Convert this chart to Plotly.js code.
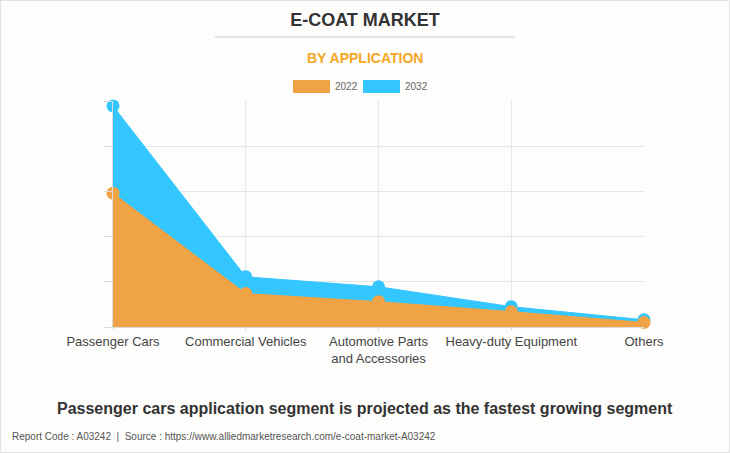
<!DOCTYPE html>
<html><head><meta charset="utf-8">
<script src="https://cdn.plot.ly/plotly-3.0.1.min.js"></script>
<style>
html,body{margin:0;padding:0;background:#fdfdfc;}
#wrap{position:relative;width:730px;height:453px;}
#chart{width:730px;height:453px;}
#border{position:absolute;left:0;top:0;width:730px;height:453px;box-sizing:border-box;border:1px solid #e2e2e2;pointer-events:none;}
</style></head>
<body><div id="wrap"><div id="chart"></div><div id="border"></div></div>
<script>
const categories = ["Passenger Cars","Commercial Vehicles","Automotive Parts<br>and Accessories","Heavy-duty Equipment","Others"];
const values2022 = [2.96, 0.74, 0.56, 0.34, 0.10];
const values2032 = [4.89, 1.11, 0.89, 0.45, 0.16];
const seriesNames = ["2022","2032"];
const colors = {"2022":"#f0a344","2032":"#33c6ff"};
const font = "Liberation Sans, Arial, sans-serif";

const traces = [
  {x:categories, y:values2032, name:seriesNames[1], type:"scatter", mode:"lines+markers", fill:"tozeroy",
   fillcolor:colors["2032"], line:{color:colors["2032"], width:1}, marker:{color:colors["2032"], size:13},
   cliponaxis:false, hoverinfo:"x+y+name"},
  {x:categories, y:values2022, name:seriesNames[0], type:"scatter", mode:"lines+markers", fill:"tozeroy",
   fillcolor:colors["2022"], line:{color:colors["2022"], width:1}, marker:{color:colors["2022"], size:13},
   cliponaxis:false, hoverinfo:"x+y+name"}
];

const layout = {
  width:730, height:453,
  margin:{l:113, r:86, t:101, b:126},
  paper_bgcolor:"#fdfdfc", plot_bgcolor:"#fdfdfc",
  showlegend:false,
  font:{family:font, color:"#444"},
  title:{text:"<b>E-COAT MARKET</b>", x:0.5, xanchor:"center", y:1-20/453, yanchor:"middle",
         font:{family:font, size:18, color:"#333"}},
  xaxis:{type:"category", range:[0,4], showgrid:true, gridcolor:"#e6e6e6", gridwidth:1,
         showline:true, linecolor:"#dcdcdc", ticks:"outside", ticklen:2, tickcolor:"#dcdcdc",
         tickfont:{family:font, size:13, color:"#444"}, fixedrange:true},
  yaxis:{range:[0,5], dtick:1, showgrid:true, gridcolor:"#e6e6e6", gridwidth:1, zeroline:false,
         showline:true, linecolor:"#dcdcdc", ticks:"outside", ticklen:8, tickcolor:"#dcdcdc",
         showticklabels:false, fixedrange:true},
  shapes:[
    {type:"line", xref:"paper", yref:"paper", x0:(215-113)/531, x1:(515-113)/531, y0:(327-37)/226, y1:(327-37)/226,
     line:{color:"#c8c8c8", width:1}},
    {type:"rect", xref:"paper", yref:"paper", x0:(293-113)/531, x1:(330-113)/531, y0:(327-93)/226, y1:(327-80)/226,
     fillcolor:colors["2022"], line:{width:0}},
    {type:"rect", xref:"paper", yref:"paper", x0:(363-113)/531, x1:(400-113)/531, y0:(327-93)/226, y1:(327-80)/226,
     fillcolor:colors["2032"], line:{width:0}}
  ],
  annotations:[
    {text:"<b>BY APPLICATION</b>", xref:"paper", yref:"paper", x:0.4746, y:(327-58)/226, xanchor:"center", yanchor:"middle",
     showarrow:false, font:{family:font, size:14, color:"#f5a623"}},
    {text:seriesNames[0], xref:"paper", yref:"paper", x:(333-113)/531, y:(327-86.5)/226, xanchor:"left", yanchor:"middle",
     showarrow:false, font:{family:font, size:10, color:"#666"}},
    {text:seriesNames[1], xref:"paper", yref:"paper", x:(403-113)/531, y:(327-86.5)/226, xanchor:"left", yanchor:"middle",
     showarrow:false, font:{family:font, size:10, color:"#666"}},
    {text:"<b>Passenger cars application segment is projected as the fastest growing segment</b>", xref:"paper", yref:"paper",
     x:0.4746, y:(327-408)/226, xanchor:"center", yanchor:"middle", showarrow:false, font:{family:font, size:16, color:"#333"}},
    {text:"Report Code : A03242  |  Source : https://www.alliedmarketresearch.com/e-coat-market-A03242", xref:"paper", yref:"paper",
     x:(10-113)/531, y:(327-436)/226, xanchor:"left", yanchor:"middle", showarrow:false, font:{family:font, size:10, color:"#555"}}
  ]
};
Plotly.newPlot("chart", traces, layout, {displayModeBar:false, staticPlot:true});
</script></body></html>
